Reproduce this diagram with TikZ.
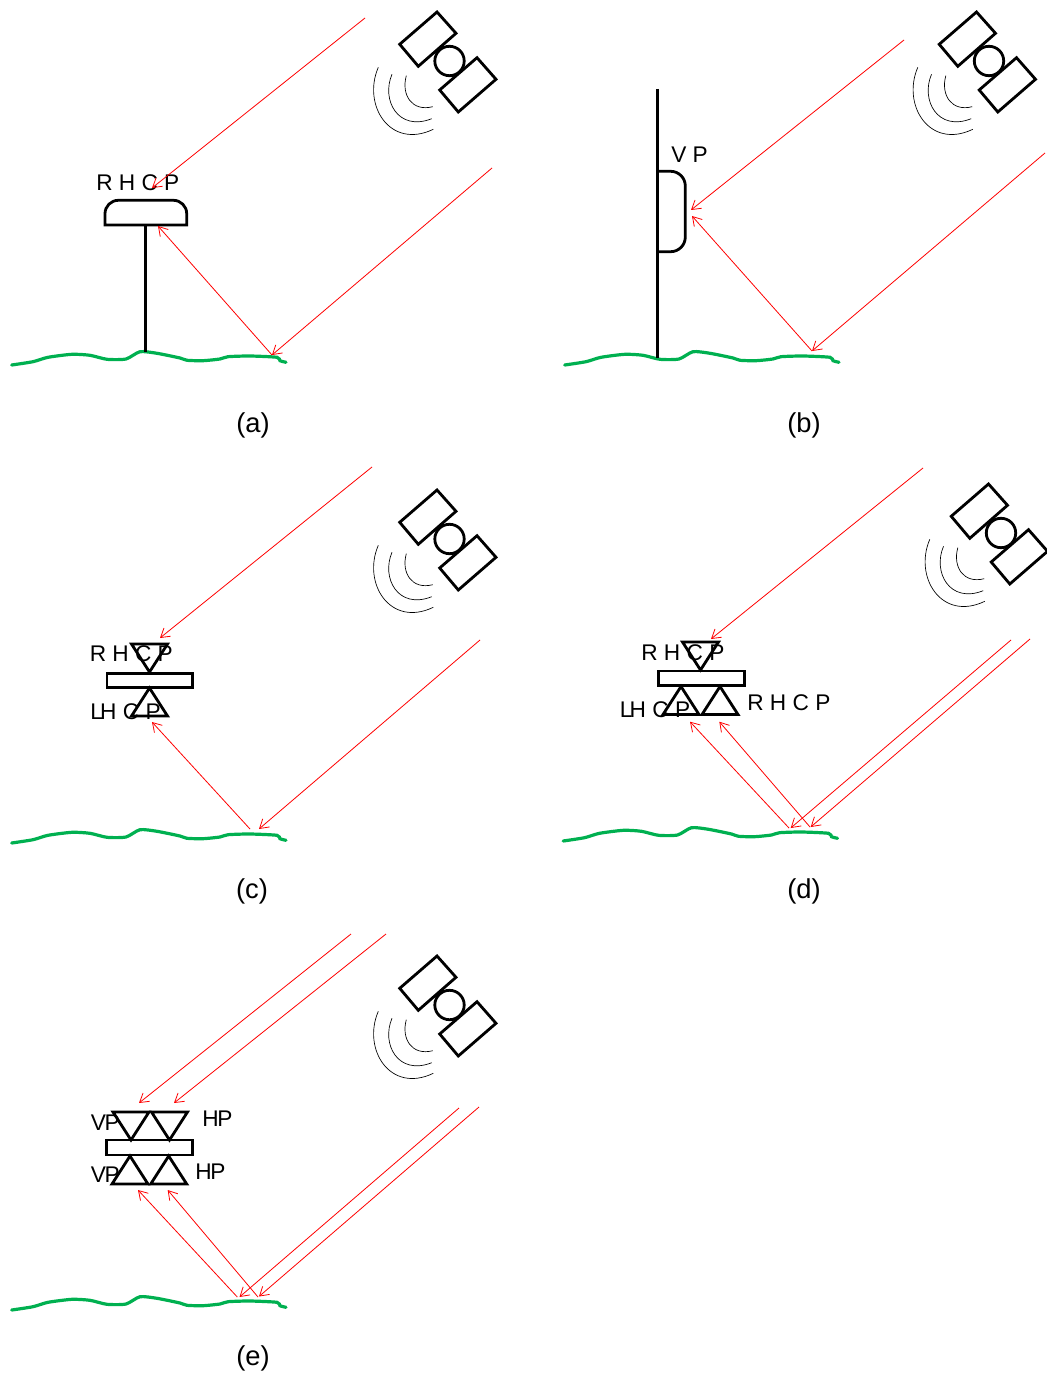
\documentclass[tikz,border=0pt]{standalone}
\usepackage{fontspec}
\setmainfont{Liberation Sans}
\usetikzlibrary{arrows.meta}

\begin{document}
\begin{tikzpicture}[
  x=0.75pt, y=-0.75pt,
  pol/.style={anchor=base west, inner sep=0pt, font=\fontsize{17pt}{18pt}\selectfont},
  caption/.style={inner sep=0pt, font=\fontsize{20.5pt}{22pt}\selectfont},
  ray/.style={red, line width=0.6pt, -{Straight Barb[length=6.5pt, width=8pt]}},
  ant/.style={black, line width=2.1pt},
  pole/.style={black, line width=2.7pt},
  wave/.style={black, line width=0.5pt},
  soil/.style={draw={rgb,255:red,0;green,176;blue,80}, line width=2.4pt, line cap=round},
  satellite/.pic={
    \draw[ant] (437,12) -- (456,33.3) -- (418.3,66.3) -- (399.7,44.3) -- cycle;
    \draw[ant] (477,57.7) -- (496,79.3) -- (458.3,112) -- (439.7,90) -- cycle;
    \draw[ant] (449.5,61) circle[radius=14.7];
    \draw[wave] (406.3,75.7) .. controls (401,95) and (412,112) .. (432.7,106.7);
    \draw[wave] (392,74.3) .. controls (381,100) and (398,132) .. (431.7,118.7);
    \draw[wave] (378.3,67.3) .. controls (362,105) and (390,150) .. (433.3,129.3);
  },
  ground/.pic={
    \draw[soil] plot[smooth, tension=0.4] coordinates {(11.7,365) (33,361.7) (48,357.3) (72,354.3) (90,355.3)
      (107,359.3) (126,359) (140,351.7) (157,353.3) (180,358) (187,360.3) (203,360.7)
      (220,359) (228,356.7) (250,356) (277,357.3) (280,360.7) (286,362.3)};
  },
  patchup/.pic={\draw[ant] (0,0) -- (-18,28) -- (18,28) -- cycle;},
  patchdown/.pic={\draw[ant] (0,0) -- (-18,-28) -- (18,-28) -- cycle;}
]
\useasboundingbox (0,0) rectangle (1046,1376);

% (a)
\pic at (0,0) {satellite};
\pic at (0,0) {ground};
\draw[pole] (145.5,225) -- (145.5,352);
\draw[ant, rounded corners=10pt] (105,225) -- (105,200.3) -- (186.7,200.3) [sharp corners] -- (186.7,225) -- cycle;
\node[pol] (rhcpa) at (96,190.7) {R H C P};
\coordinate (a1) at (365,18);
\coordinate (a2) at (152,188);
\coordinate (a3) at (492,168);
\coordinate (a4) at (272,355);
\coordinate (a5) at (158,226);
\draw[ray] (a1) -- (a2);
\draw[ray] (a3) -- (a4);
\draw[ray] (a4) -- (a5);
\node[caption] (capa) at (253,425) {(a)};

% (b)
\pic at (539.5,0) {satellite};
\pic at (553,0) {ground};
\draw[pole] (657.5,89) -- (657.5,358);
\draw[ant, rounded corners=11pt] (657.5,171.3) -- (685.3,171.3) -- (685.3,251.7) [sharp corners] -- (657.5,251.7);
\node[pol] (vpb) at (671,163) {V P};
\coordinate (b1) at (904,40);
\coordinate (b2) at (691,210);
\coordinate (b3) at (1045,153);
\coordinate (b4) at (812,351);
\coordinate (b5) at (692,216);
\draw[ray] (b1) -- (b2);
\draw[ray] (b3) -- (b4);
\draw[ray] (b4) -- (b5);
\node[caption] (capb) at (804,425) {(b)};

% (c)
\pic at (0,478) {satellite};
\pic at (0,478) {ground};
\draw[ant] (107,673.3) rectangle (192.7,687.7);
\pic at (149.5,672) {patchdown};
\pic at (149.5,688) {patchup};
\node[pol] (rhcpc) at (89.5,661.7) {R H C P};
\node[pol] (lhcpc) at (90,719) {L\kern-2pt H C P};
\coordinate (c1) at (372,467);
\coordinate (c2) at (160,638);
\coordinate (c3) at (480,640);
\coordinate (c4) at (259,829);
\coordinate (c5) at (250,829);
\coordinate (c6) at (152,722);
\draw[ray] (c1) -- (c2);
\draw[ray] (c3) -- (c4);
\draw[ray] (c5) -- (c6);
\node[caption] (capc) at (252,891) {(c)};

% (d)
\pic at (551.5,472) {satellite};
\pic at (551.5,476) {ground};
\draw[ant] (658.3,671) rectangle (744.3,685.7);
\pic at (700.5,670) {patchdown};
\pic at (681,686.5) {patchup};
\pic at (720,686.5) {patchup};
\node[pol] (rhcpd) at (641,660) {R H C P};
\node[pol] (lhcpd) at (619.5,717.3) {L\kern-2pt H C P};
\node[pol] (rhcpe) at (747,710) {R H C P};
\coordinate (d1) at (923,468);
\coordinate (d2) at (711,639);
\coordinate (d3) at (1011,640);
\coordinate (d4) at (790.7,828);
\coordinate (d5) at (1030,639);
\coordinate (d6) at (810.7,827);
\coordinate (d7) at (789,828);
\coordinate (d8) at (690,721.7);
\coordinate (d9) at (810,827);
\coordinate (d10) at (719.3,721.7);
\draw[ray] (d1) -- (d2);
\draw[ray] (d3) -- (d4);
\draw[ray] (d5) -- (d6);
\draw[ray] (d7) -- (d8);
\draw[ray] (d9) -- (d10);
\node[caption] (capd) at (804,891) {(d)};

% (e)
\pic at (0,944) {satellite};
\pic at (0,945) {ground};
\draw[ant] (106.7,1140) rectangle (192.7,1155);
\pic at (131,1140) {patchdown};
\pic at (169.5,1140) {patchdown};
\pic at (130,1156) {patchup};
\pic at (168.7,1156) {patchup};
\node[pol] (vpe) at (90.5,1130) {V\kern-1pt P};
\node[pol] (hpe) at (202,1126) {H\kern-1pt P};
\node[pol] (vpf) at (90.5,1182.7) {V\kern-1pt P};
\node[pol] (hpf) at (195,1179.3) {H\kern-1pt P};
\coordinate (e1) at (351,934);
\coordinate (e2) at (139,1103);
\coordinate (e3) at (386,934);
\coordinate (e4) at (174,1103);
\coordinate (e5) at (459,1108);
\coordinate (e6) at (239.5,1297);
\coordinate (e7) at (479,1107);
\coordinate (e8) at (259,1296.5);
\coordinate (e9) at (237.3,1297);
\coordinate (e10) at (138,1190);
\coordinate (e11) at (258,1297);
\coordinate (e12) at (167.7,1190);
\draw[ray] (e1) -- (e2);
\draw[ray] (e3) -- (e4);
\draw[ray] (e5) -- (e6);
\draw[ray] (e7) -- (e8);
\draw[ray] (e9) -- (e10);
\draw[ray] (e11) -- (e12);
\node[caption] (cape) at (253,1358) {(e)};
\end{tikzpicture}
\end{document}
